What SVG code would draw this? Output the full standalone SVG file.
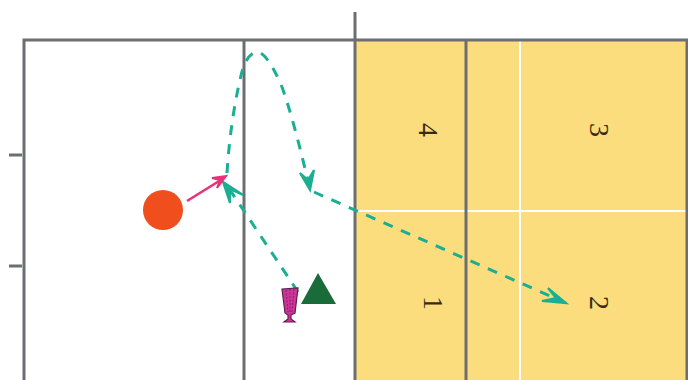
<svg xmlns="http://www.w3.org/2000/svg" width="688" height="380" viewBox="0 0 688 380">
<defs><style>
.frame{fill:none;stroke:#6d6e71;stroke-width:3}
.wl{stroke:#fff;stroke-width:2;fill:none}
.dash{fill:none;stroke:#1cae92;stroke-width:3;stroke-dasharray:10 9}
.head{fill:#1cae92;stroke:#1cae92;stroke-width:2.2;stroke-linejoin:miter}
.lbl{font-family:"Liberation Serif",serif;font-size:28px;fill:#3a2a14;text-anchor:middle}
</style></defs>
<rect width="688" height="380" fill="#fff"/>
<g id="court">
<rect x="355" y="40" width="332" height="340" fill="#fbdd7e"/>
<path class="wl" d="M520 40V380M355 211H687"/>
<path class="frame" d="M24 380V40H687V380M244 40V380M355 12V380M466 40V380M9 155H22M9 266H22"/>
</g>
<g id="labels">
<text class="lbl" transform="translate(419 130) rotate(90)">4</text>
<text class="lbl" transform="translate(590 130) rotate(90)">3</text>
<text class="lbl" transform="translate(424 303) rotate(90)">1</text>
<text class="lbl" transform="translate(590 303) rotate(90)">2</text>
</g>
<g id="connectors">
<path class="dash" d="M298 292L226 184"/>
<path class="head" d="M230 203L223 182L243 195L230 189Z"/>
<path class="dash" d="M227 173C229 140 234 105 240 80C243 65 248 54 256 52C264 51 273 66 282 87C292 115 302 155 310 190"/>
<path class="head" d="M300 173L310 190L314 170L308 180Z"/>
<path class="dash" d="M314 192L566 303"/>
<path class="head" d="M548 288L566 303L542 301L556 298Z"/>
<path d="M187 201L224 178" fill="none" stroke="#e8317a" stroke-width="2.6"/>
<path d="M212 178L226 176L217 188L220 180Z" fill="#e8317a" stroke="#e8317a" stroke-width="2"/>
</g>
<g id="circle"><circle cx="163" cy="210" r="20" fill="#f04e1c"/></g>
<g id="triangle"><polygon points="318,273 336,304 301,304" fill="#1a6b3a"/></g>
<g id="cup">
<path d="M282 289L298 288L295 313L291 315V319L295 322H284L288 319V315L285 313Z" fill="#d0339b" stroke="#5e2048" stroke-width="1.2"/>
<path d="M286 290L288 312M290 289V314M294 289L292 312" stroke="#7b2563" stroke-width="1" stroke-dasharray="2 1.5" fill="none"/>
</g>
</svg>
